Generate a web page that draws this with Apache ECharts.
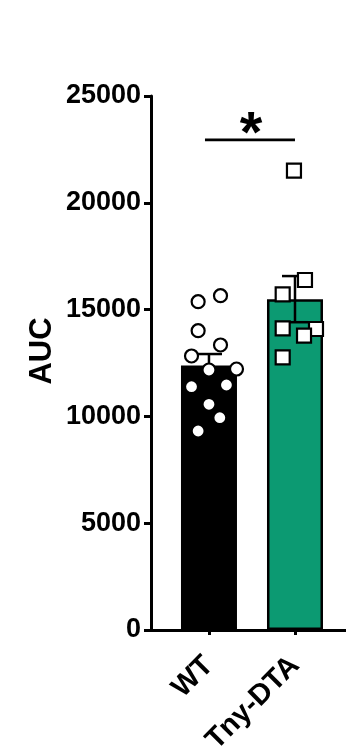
<!DOCTYPE html>
<html><head><meta charset="utf-8">
<script src="https://cdn.jsdelivr.net/npm/echarts@6/dist/echarts.min.js"></script>
<style>html,body{margin:0;padding:0;background:#fff}#c{width:346px;height:747px}</style>
</head><body><div id="c"></div>
<script>
const categories = ['WT', 'Tny-DTA'];
const means = [12380, 15490];
const sems = [540, 1080];
const wtValues = [15370, 15651, 14012, 13343, 12828, 12172, 12219, 11390, 11470, 10567, 9939, 9317];
const tnyValues = [21503, 16386, 15716, 14124, 14091, 13778, 12767];
const wtJitter = [-0.126, 0.134, -0.126, 0.134, -0.203, 0, 0.32, -0.203, 0.203, 0, 0.126, -0.126];
const tnyJitter = [-0.012, 0.116, -0.143, -0.143, 0.244, 0.105, -0.143];
const yMin = 0, yMax = 25000, yStep = 5000;
const sigValue = 22950;
const sigLabel = '*';
const barColors = ['#000000', '#0c9a72'];

const FONT = 'Liberation Sans, Arial, sans-serif';
const chart = echarts.init(document.getElementById('c'), null, {renderer: 'canvas'});

const option = {
  animation: false,
  backgroundColor: '#fff',
  grid: {left: 151, right: 0, top: 96, bottom: 117, containLabel: false, outerBoundsMode: 'none'},
  xAxis: {
    type: 'value', min: -0.674, max: 1.593,
    splitLine: {show: false},
    axisLine: {show: true, onZero: false, lineStyle: {color: '#000', width: 3}},
    axisTick: {show: true, customValues: [0, 1], length: 5, lineStyle: {color: '#000', width: 3}},
    axisLabel: {
      customValues: [0, 1],
      formatter: v => categories[Math.round(v)] || '',
      rotate: 45, fontSize: 29, fontWeight: 'bold', color: '#000', fontFamily: FONT, margin: 31
    }
  },
  yAxis: {
    type: 'value', min: yMin, max: yMax, interval: yStep,
    splitLine: {show: false},
    axisLine: {show: true, onZero: false, lineStyle: {color: '#000', width: 3}},
    axisTick: {show: true, length: 7, lineStyle: {color: '#000', width: 3}},
    axisLabel: {fontSize: 27, fontWeight: 'bold', color: '#000', fontFamily: FONT, margin: 10,
      formatter: v => String(v)},
    name: 'AUC', nameLocation: 'middle', nameGap: 93, nameRotate: 90, nameMoveOverlap: false,
    nameTextStyle: {fontSize: 31, fontWeight: 'bold', color: '#000', fontFamily: FONT, padding: [0, 0, 0, 24]}
  },
  series: [
    {
      type: 'bar', barWidth: 56, z: 2,
      data: means.map((m, i) => ({value: [i, m], itemStyle: {color: barColors[i], borderColor: '#000', borderWidth: 2.5}}))
    },
    {
      type: 'custom', z: 3,
      data: means.map((m, i) => [i, m, sems[i]]),
      renderItem: function (params, api) {
        const i = api.value(0), m = api.value(1), s = api.value(2);
        const top = api.coord([i, m + s]);
        const bot = api.coord([i, m - s]);
        const hw = 13;
        const st = {stroke: '#000', lineWidth: 2.5};
        return {type: 'group', children: [
          {type: 'line', shape: {x1: top[0], y1: top[1], x2: bot[0], y2: bot[1]}, style: st},
          {type: 'line', shape: {x1: top[0] - hw, y1: top[1], x2: top[0] + hw, y2: top[1]}, style: st},
          {type: 'line', shape: {x1: bot[0] - hw, y1: bot[1], x2: bot[0] + hw, y2: bot[1]}, style: st}
        ]};
      }
    },
    {
      type: 'scatter', z: 4, symbol: 'circle', symbolSize: 13,
      itemStyle: {color: '#fff', borderColor: '#000', borderWidth: 2.2, opacity: 1},
      data: wtValues.map((v, k) => [0 + wtJitter[k], v])
    },
    {
      type: 'scatter', z: 4, symbol: 'rect', symbolSize: 14,
      itemStyle: {color: '#fff', borderColor: '#000', borderWidth: 2.2, opacity: 1},
      data: tnyValues.map((v, k) => [1 + tnyJitter[k], v])
    },
    {
      type: 'custom', z: 5,
      data: [[0, 1, sigValue]],
      renderItem: function (params, api) {
        const a = api.coord([api.value(0), api.value(2)]);
        const b = api.coord([api.value(1), api.value(2)]);
        return {type: 'group', children: [
          {type: 'line', shape: {x1: a[0] - 4, y1: a[1], x2: b[0], y2: b[1]}, style: {stroke: '#000', lineWidth: 2.8}},
          {type: 'text', x: (a[0] + b[0]) / 2 - 1, y: a[1] + 25,
           style: {text: sigLabel, fontSize: 58, fontWeight: 'bold', fontFamily: FONT, fill: '#000', align: 'center', verticalAlign: 'bottom'}}
        ]};
      }
    }
  ]
};
chart.setOption(option);
</script>
</body></html>
